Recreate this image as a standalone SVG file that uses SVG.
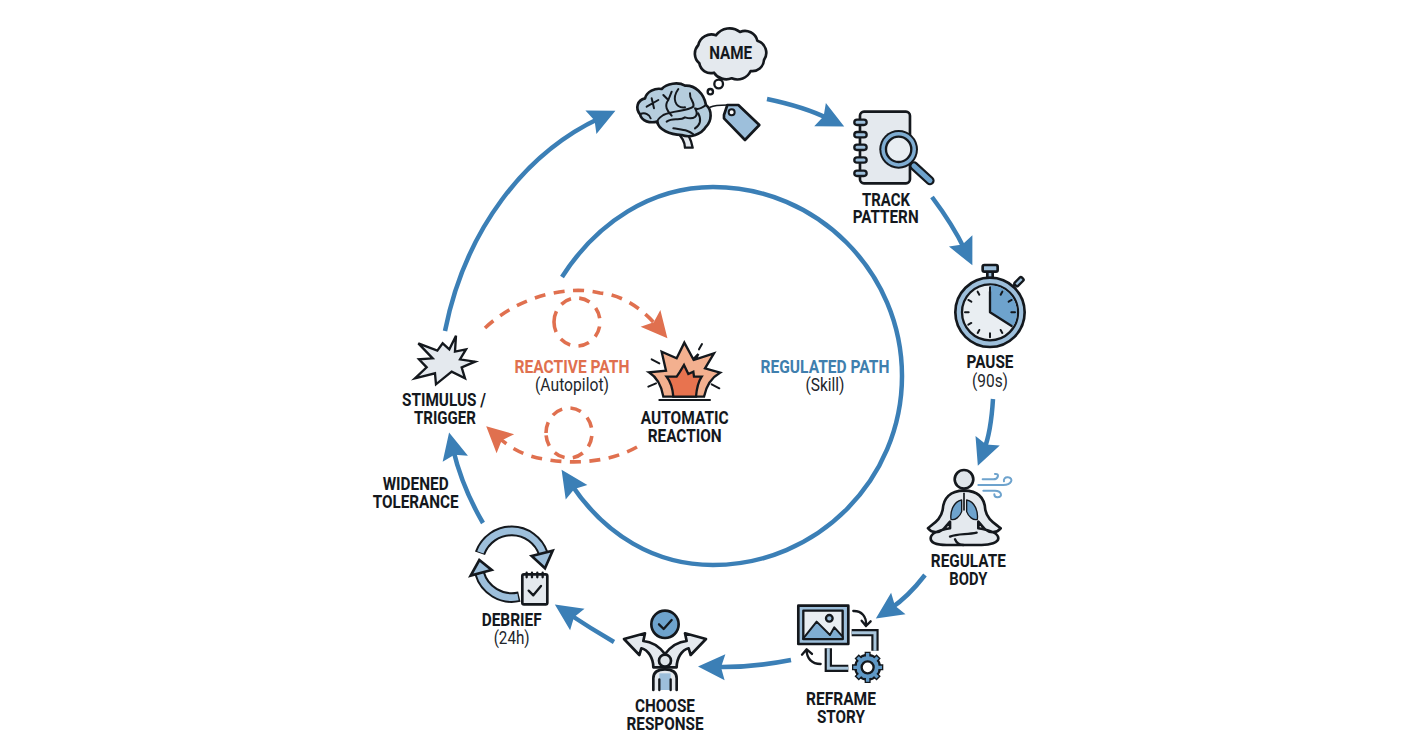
<svg xmlns="http://www.w3.org/2000/svg" width="1424" height="752" viewBox="0 0 1424 752">
<style>
.t{font-family:Roboto,"Liberation Sans",sans-serif;font-size:18.5px;font-weight:700;fill:#14181d;text-anchor:middle}
.r{font-family:Roboto,"Liberation Sans",sans-serif;font-size:18px;font-weight:400;fill:#22262b;text-anchor:middle}
.z{font-size:55px}
.b{fill:none;stroke:#3b7fb6;stroke-width:4.5}
.d{fill:none;stroke:#e0704f;stroke-width:3.6;stroke-dasharray:11 8.5}
.o{stroke:#14181d;stroke-width:8;stroke-linejoin:round;stroke-linecap:round}
.l{stroke:#14181d;stroke-width:7;stroke-linejoin:round;stroke-linecap:round;fill:none}
.pale{fill:#e4e9ee}.mid{fill:#9dbfdb}.blue{fill:#6ea3cd}.dial{fill:#e9eef2}.wh{fill:#fff}
</style>
<defs>
<marker id="ab" markerUnits="userSpaceOnUse" markerWidth="32" markerHeight="32" viewBox="0 0 32 32" refX="11" refY="16" orient="auto"><path d="M1 3 L28 16 L1 29 L5 16Z" fill="#3b7fb6"/></marker>
<marker id="ao" markerUnits="userSpaceOnUse" markerWidth="32" markerHeight="32" viewBox="0 0 32 32" refX="11" refY="16" orient="auto"><path d="M1 3 L27 16 L1 29 L6 16Z" fill="#e0704f"/></marker>
</defs>
<rect width="1424" height="752" fill="#fff"/>
<g id="connectors">
<path class="b" marker-end="url(#ab)" d="M445 331 C465 230 525 153 600 118"/>
<path class="b" marker-end="url(#ab)" d="M767 99 Q805 107 829 119"/>
<path class="b" marker-end="url(#ab)" d="M932 197 Q953 225 965 250"/>
<path class="b" marker-end="url(#ab)" d="M993 399 Q991 432 984 450"/>
<path class="b" marker-end="url(#ab)" d="M925 575 Q908 597 890 609"/>
<path class="b" marker-end="url(#ab)" d="M791 660 Q750 668 715 667"/>
<path class="b" marker-end="url(#ab)" d="M614 642 Q590 628 569 614"/>
<path class="b" marker-end="url(#ab)" d="M483 523 Q462 487 453 449"/>
<path class="b" marker-end="url(#ab)" d="M562 277 C597 222 652 187 713 187 C817 187 902 272 902 376 C902 480 817 565 713 565 C655 565 605 535 571 484"/>
<path class="d" marker-end="url(#ao)" d="M485 328 C520 295 570 285 600 293 C625 295 645 312 657 326"/>
<path class="d" d="M554 322 A23 24 0 1 1 600 322 A23 24 0 1 1 554 322"/>
<path class="d" marker-end="url(#ao)" d="M637 447 C610 462 575 465 543 459 C525 456 510 448 498 437"/>
<path class="d" d="M546 433 A23 25 0 1 1 592 433 A23 25 0 1 1 546 433"/>
</g>
<g id="node-name">
<g transform="translate(630 75) scale(.3333)">
<path class="o pale" style="stroke-width:7" d="M140 170 C155 185 165 200 165 218 L188 218 C185 200 180 190 175 180Z"/>
<path class="o" fill="#b5cddd" d="M30 118 C15 100 22 75 45 70 C50 50 75 38 95 42 C110 25 145 20 165 32 C195 30 222 55 228 90 C248 105 245 140 228 155 C215 178 180 190 155 180 C120 178 85 165 82 140 C60 145 35 140 30 118Z"/>
<path class="l" style="stroke-width:6" d="M50 95 L85 75 M65 70 L72 100 M30 118 C45 110 60 120 62 130 M100 60 L115 75 L125 50 M115 75 C100 95 115 110 125 122 M145 42 C125 70 135 100 165 97 M180 55 C178 75 195 80 190 95 C170 110 130 105 100 120 C85 130 80 140 82 145 M228 90 C215 100 205 105 195 100 C210 125 190 135 165 127 C150 140 130 125 110 140 M205 115 C215 135 210 150 195 160 M130 160 C160 165 175 165 190 178"/>
</g>
<g transform="translate(620 10) scale(.3333)">
<path class="o pale" d="M238 160 A38 38 0 0 1 235 105 A40 40 0 0 1 288 76 A50 50 0 0 1 360 66 A38 38 0 0 1 412 92 A38 38 0 0 1 432 150 A35 35 0 0 1 392 183 A44 44 0 0 1 335 205 A44 44 0 0 1 282 188 A35 35 0 0 1 238 160Z"/>
<circle class="l wh" cx="296" cy="222" r="13"/><circle class="l" cx="271" cy="245" r="8"/>
<path class="l" style="stroke-width:5" d="M270 292 C285 285 300 285 322 285"/>
<path class="o mid" d="M312 325 L312 315 L322 285 L355 285 L418 345 L375 390Z"/>
<circle class="l wh" style="stroke-width:6" cx="335" cy="307" r="9"/>
<text class="t z" x="332" y="147" textLength="129" lengthAdjust="spacingAndGlyphs">NAME</text>
</g>
</g>
<g id="node-track" transform="translate(620 10) scale(.3333)">
<rect class="o pale" x="720" y="305" width="150" height="215" rx="12"/>
<g class="o mid" style="stroke-width:7"><rect x="703" y="329" width="37" height="16" rx="8"/><rect x="703" y="366" width="37" height="16" rx="8"/><rect x="703" y="404" width="37" height="16" rx="8"/><rect x="703" y="442" width="37" height="16" rx="8"/><rect x="703" y="482" width="37" height="16" rx="8"/></g>
<path d="M882 468 L930 512" stroke="#14181d" stroke-width="28" stroke-linecap="round"/>
<path d="M882 468 L930 512" stroke="#6ea3cd" stroke-width="15" stroke-linecap="round"/>
<circle cx="836" cy="418" r="58" fill="#14181d"/><circle cx="836" cy="418" r="52" fill="#7fadd2"/><circle class="l dial" cx="836" cy="418" r="38"/>
<text class="t z" x="798" y="587" textLength="144" lengthAdjust="spacingAndGlyphs">TRACK</text>
<text class="t z" x="797" y="640" textLength="198" lengthAdjust="spacingAndGlyphs">PATTERN</text>
</g>
<g id="node-pause" transform="translate(900 250) scale(.3333)">
<path class="o mid" d="M262 62 L278 62 L278 90 L262 90Z"/>
<rect class="o mid" x="248" y="45" width="45" height="20" rx="5"/>
<path class="l" d="M338 110 L346 102"/>
<rect class="o mid" transform="rotate(-45 357 95)" x="342" y="88" width="30" height="14" rx="4" style="stroke-width:7"/>
<circle class="o mid" cx="270" cy="187" r="104"/>
<circle class="l dial" cx="270" cy="187" r="84"/>
<path fill="#6ea3cd" d="M270 187 L270 106 A81 81 0 0 1 340 228Z"/>
<path class="l" style="stroke-width:6" d="M270 112 V122 M270 250 V262 M195 187 H206 M334 187 H345 M233 125 L238 134 M307 125 L302 134 M233 249 L238 240 M307 249 L302 240 M205 150 L214 155 M335 150 L326 155 M205 224 L214 219"/>
<path class="l" d="M270 125 V187 L335 228"/>
<text class="t z" x="270" y="355" textLength="141" lengthAdjust="spacingAndGlyphs">PAUSE</text>
<text class="r z" x="270" y="412" textLength="108" lengthAdjust="spacingAndGlyphs">(90s)</text>
</g>
<g id="node-regulate" transform="translate(900 250) scale(.3333)">
<path class="o pale" d="M192 722 C150 722 130 745 128 780 C122 810 100 820 84 835 C95 850 115 850 130 838 L150 815 L150 835 C120 840 92 850 92 865 C92 880 115 885 140 885 L245 885 C270 885 295 878 295 865 C295 850 265 840 235 835 L235 815 L255 838 C270 850 290 850 302 835 C285 820 262 810 256 780 C254 745 235 722 192 722Z"/>
<circle class="o" cx="192" cy="688" r="28" fill="#dfe5ea"/>
<path class="l" d="M150 860 C175 850 200 855 230 848 M165 868 C170 880 178 885 190 885"/>
<path class="l blue" style="stroke-width:4" d="M185 750 C160 755 150 785 153 808 C165 812 180 800 185 785Z M200 750 C225 755 235 785 232 808 C220 812 205 800 200 785Z"/>
<path class="l" style="stroke-width:5" d="M192 730 V780"/>
<path d="M235 705 H310 C335 705 342 685 325 682 C315 680 310 688 312 694 M248 688 H280 C295 688 300 670 285 672 M250 722 H285 C305 722 310 742 292 742 C285 742 283 738 283 733" fill="none" stroke="#6ea3cd" stroke-width="6" stroke-linecap="round"/>
<text class="t z" x="205" y="952" textLength="225" lengthAdjust="spacingAndGlyphs">REGULATE</text>
<text class="t z" x="205" y="1005" textLength="114" lengthAdjust="spacingAndGlyphs">BODY</text>
</g>
<g id="node-reframe" transform="translate(600 590) scale(.3333)">
<rect class="o mid" x="595" y="47" width="150" height="115"/>
<rect class="l dial" x="610" y="62" width="118" height="85"/>
<path fill="#7fadd2" stroke="#14181d" stroke-width="6" stroke-linejoin="round" d="M610 145 L650 95 L690 135 L703 112 L728 140 L728 147 L610 147Z"/>
<circle class="l mid" cx="688" cy="85" r="10"/>
<path class="l" d="M760 63 C785 62 800 80 798 105 M785 92 L798 108 L812 94 M662 222 C635 222 620 205 620 180 M606 194 L620 178 L636 192"/>
<path fill="none" stroke="#14181d" stroke-width="22" d="M755 128 H825 V182 M685 175 V235 H745"/>
<path fill="none" stroke="#a9c6dc" stroke-width="9" d="M755 128 H825 V182 M685 175 V235 H745"/>
<circle cx="803" cy="232" r="37" fill="#5f98c6" stroke="#14181d" stroke-width="7"/>
<path stroke="#14181d" stroke-width="18" d="M803 185 V279 M756 232 H850 M770 199 L836 265 M836 199 L770 265"/>
<path stroke="#5f98c6" stroke-width="10" d="M803 189 V275 M760 232 H846 M773 202 L833 262 M833 202 L773 262"/>
<circle cx="803" cy="232" r="33" fill="#5f98c6"/>
<circle class="l wh" cx="803" cy="232" r="18"/>
<text class="t z" x="723" y="345" textLength="210" lengthAdjust="spacingAndGlyphs">REFRAME</text>
<text class="t z" x="723" y="400" textLength="144" lengthAdjust="spacingAndGlyphs">STORY</text>
</g>
<g id="node-choose" transform="translate(600 590) scale(.3333)">
<circle class="o blue" cx="195" cy="103" r="41"/>
<path class="l" d="M177 103 L191 117 L215 90"/>
<path class="o pale" d="M195 192 C178 170 155 155 130 153 L135 130 L72 147 L118 195 L124 175 C145 180 160 205 160 232 L230 232 C230 205 245 180 266 175 L272 195 L318 147 L255 130 L260 153 C235 155 212 170 195 192Z"/>
<circle class="o" cx="195" cy="212" r="18" fill="#dfe5ea"/>
<path class="o pale" d="M160 300 V265 C160 245 175 238 195 238 C215 238 230 245 230 265 V300"/>
<path class="mid" d="M178 300 V250 H212 V300Z"/>
<path class="l" d="M178 268 V300 M212 268 V300"/>
<text class="t z" x="195" y="367" textLength="180" lengthAdjust="spacingAndGlyphs">CHOOSE</text>
<text class="t z" x="195" y="420" textLength="231" lengthAdjust="spacingAndGlyphs">RESPONSE</text>
</g>
<g id="node-debrief" transform="translate(360 460) scale(.3333)">
<path fill="none" stroke="#14181d" stroke-width="32" d="M360 280 A100.5 100.5 0 0 1 550 281"/>
<path fill="none" stroke="#9dbfdb" stroke-width="20" d="M361 277 A100.5 100.5 0 0 1 550 281"/>
<path class="o mid" style="stroke-linejoin:miter" d="M515 288 L578 272 L555 325Z"/>
<path fill="none" stroke="#14181d" stroke-width="32" d="M478 410 A100.5 100.5 0 0 1 359 340"/>
<path fill="none" stroke="#9dbfdb" stroke-width="20" d="M474 411 A100.5 100.5 0 0 1 359 340"/>
<path class="o mid" style="stroke-linejoin:miter" d="M332 347 L358 300 L395 330Z"/>
<rect class="o pale" x="487" y="343" width="75" height="90" rx="5"/>
<path class="l" d="M500 338 V352 M516 338 V352 M532 338 V352 M548 338 V352 M506 392 L520 406 L543 378"/>
<text class="t z" x="455" y="497" textLength="180" lengthAdjust="spacingAndGlyphs">DEBRIEF</text>
<text class="r z" x="455" y="552" textLength="108" lengthAdjust="spacingAndGlyphs">(24h)</text>
<text class="t z" x="167" y="90" textLength="198" lengthAdjust="spacingAndGlyphs">WIDENED</text>
<text class="t z" x="167" y="143" textLength="258" lengthAdjust="spacingAndGlyphs">TOLERANCE</text>
</g>
<g id="node-stimulus" transform="translate(360 280) scale(.3333)">
<path class="o pale" style="stroke-width:7;stroke-linejoin:miter" d="M288 167 L285 215 L318 208 L300 238 L345 245 L305 262 L315 295 L275 275 L228 313 L225 280 L165 295 L200 262 L177 238 L218 235 L175 190 L232 212 L248 190 L268 208Z"/>
<text class="t z" x="252" y="378" textLength="252" lengthAdjust="spacingAndGlyphs">STIMULUS /</text>
<text class="t z" x="255" y="432" textLength="186" lengthAdjust="spacingAndGlyphs">TRIGGER</text>
</g>
<g id="node-reaction" transform="translate(630 330) scale(.3333)">
<path class="o" fill="#f3b08f" style="stroke-width:7;stroke-linejoin:miter" d="M100 200 C95 170 85 145 57 127 L108 122 L95 65 L140 85 L163 38 L190 88 L205 72 L197 88 L252 70 L225 115 L270 128 C240 145 228 170 222 200Z"/>
<path class="o" fill="#e8734f" style="stroke-width:7;stroke-linejoin:miter" d="M130 200 C128 175 122 155 110 140 L140 140 L150 125 L162 105 L175 132 L190 125 L192 140 L215 140 C205 155 200 175 198 200Z"/>
<path class="l" d="M88 210 H240" style="stroke-width:6"/>
<path class="l" style="stroke-width:6" d="M65 88 L88 100 M216 42 L207 58 M55 170 L78 160 M268 175 L245 163"/>
<text class="t z" x="164" y="282" textLength="264" lengthAdjust="spacingAndGlyphs">AUTOMATIC</text>
<text class="t z" x="164" y="335" textLength="222" lengthAdjust="spacingAndGlyphs">REACTION</text>
</g>
<g id="label-reactive">
<text class="t" x="572" y="373" style="fill:#e0704f" textLength="115" lengthAdjust="spacingAndGlyphs">REACTIVE PATH</text>
<text class="r" x="572" y="391" textLength="74" lengthAdjust="spacingAndGlyphs">(Autopilot)</text>
</g>
<g id="label-regulated">
<text class="t" x="825" y="373" style="fill:#3f7fae" textLength="129" lengthAdjust="spacingAndGlyphs">REGULATED PATH</text>
<text class="r" x="825" y="391" textLength="39" lengthAdjust="spacingAndGlyphs">(Skill)</text>
</g>
</svg>
